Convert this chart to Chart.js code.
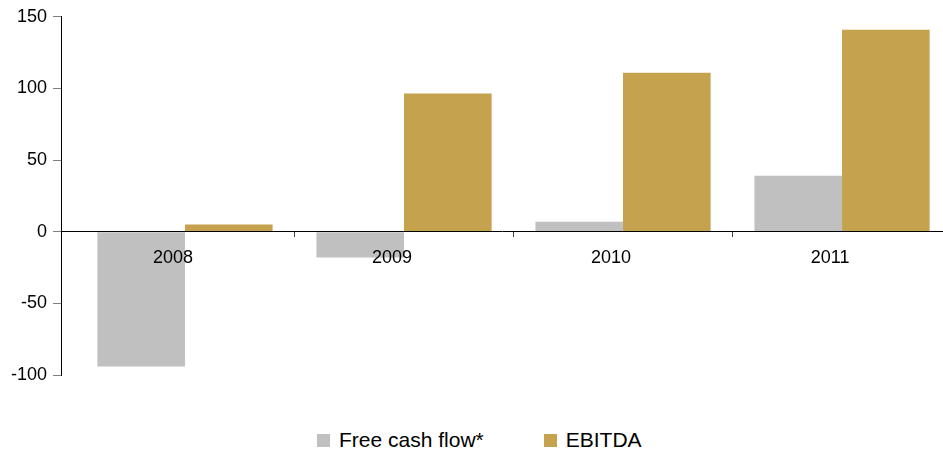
<!DOCTYPE html>
<html>
<head>
<meta charset="utf-8">
<script src="https://cdn.jsdelivr.net/npm/chart.js@4/dist/chart.umd.min.js"></script>
<style>
  html, body { margin: 0; padding: 0; background: #ffffff; overflow: hidden; }
  #wrap { position: relative; width: 943px; height: 453px; font-family: "Liberation Sans", Arial, sans-serif; }
  #box { position: absolute; left: 0; top: 0; width: 943px; height: 400px; }
  #legend { position: absolute; left: 317px; top: 428px; display: flex; align-items: center;
            font-size: 21px; line-height: 24px; color: #000; white-space: nowrap; }
  #legend .item { display: flex; align-items: center; }
  #legend .item + .item { margin-left: 60px; }
  #legend .sw { width: 13px; height: 13px; margin-right: 9px; }
</style>
</head>
<body>
<div id="wrap">
  <div id="box"><canvas id="chart"></canvas></div>
  <div id="legend"></div>
</div>
<script>
// Years on the category axis
const years = ['2008', '2009', '2010', '2011'];
// Free cash flow (asterisked in the legend)
const freeCashFlow = [-94, -18, 7, 39];
// EBITDA per year
const ebitda = [5, 96.5, 111, 141];
// Value axis ticks
const yTicks = [-100, -50, 0, 50, 100, 150];

const seriesNames = ['Free cash flow*', 'EBITDA'];
const seriesColors = ['#C0C0C0', '#C4A24E'];

const FONT = '"Liberation Sans", Arial, sans-serif';

// Bars are placed on a numeric index axis so the y axis can sit a little
// to the left of the first year band.
const toPoints = arr => arr.map((v, i) => ({ x: i, y: v }));
const X_MIN = -0.566;
const X_MAX = 3.461;

const ctx = document.getElementById('chart');
const chart = new Chart(ctx, {
  type: 'bar',
  data: {
    datasets: [
      { label: seriesNames[0], data: toPoints(freeCashFlow), backgroundColor: seriesColors[0], borderWidth: 0 },
      { label: seriesNames[1], data: toPoints(ebitda), backgroundColor: seriesColors[1], borderWidth: 0 }
    ]
  },
  options: {
    responsive: true,
    maintainAspectRatio: false,
    animation: false,
    events: [],
    datasets: { bar: { categoryPercentage: 0.8, barPercentage: 1.0 } },
    layout: { padding: { top: 15, bottom: 25, left: 5, right: 0 } },
    plugins: { legend: { display: false }, tooltip: { enabled: false } },
    scales: {
      // year labels and the zero line, drawn above the bars
      x: {
        type: 'linear',
        position: { y: 0 },
        offset: false,
        min: X_MIN,
        max: X_MAX,
        afterBuildTicks: s => { s.ticks = years.map((_, i) => ({ value: i })); },
        ticks: {
          z: 1,
          callback: (v) => years[Math.round(v)] ?? '',
          color: '#000',
          font: { family: FONT, size: 18 },
          padding: 16,
          labelOffset: -12,
          maxRotation: 0,
          autoSkip: false
        },
        grid: { display: false, drawTicks: false, offset: false },
        border: { display: true, color: '#000', width: 1, z: 1 }
      },
      // short separators between the year bands
      xSep: {
        type: 'linear',
        axis: 'x',
        position: { y: 0 },
        offset: false,
        min: X_MIN,
        max: X_MAX,
        afterBuildTicks: s => { s.ticks = years.slice(1).map((_, i) => ({ value: i + 0.5 })); },
        ticks: { callback: () => '', padding: 0 },
        grid: { display: true, z: 1, offset: false, drawOnChartArea: false, drawTicks: true, tickLength: 5, color: '#444', lineWidth: 1 },
        border: { display: false }
      },
      y: {
        min: yTicks[0],
        max: yTicks[yTicks.length - 1],
        afterBuildTicks: s => { s.ticks = yTicks.map(v => ({ value: v })); },
        ticks: {
          color: '#000',
          font: { family: FONT, size: 18 },
          padding: 6
        },
        grid: { display: true, drawOnChartArea: false, drawTicks: true, tickLength: 8, color: '#808080', lineWidth: 1 },
        border: { display: true, color: '#000', width: 1 }
      }
    }
  }
});

// Legend built from the chart's own datasets
const legendEl = document.getElementById('legend');
chart.data.datasets.forEach(ds => {
  const item = document.createElement('div');
  item.className = 'item';
  const sw = document.createElement('span');
  sw.className = 'sw';
  sw.style.background = ds.backgroundColor;
  const txt = document.createElement('span');
  txt.textContent = ds.label;
  item.appendChild(sw);
  item.appendChild(txt);
  legendEl.appendChild(item);
});
</script>
</body>
</html>
